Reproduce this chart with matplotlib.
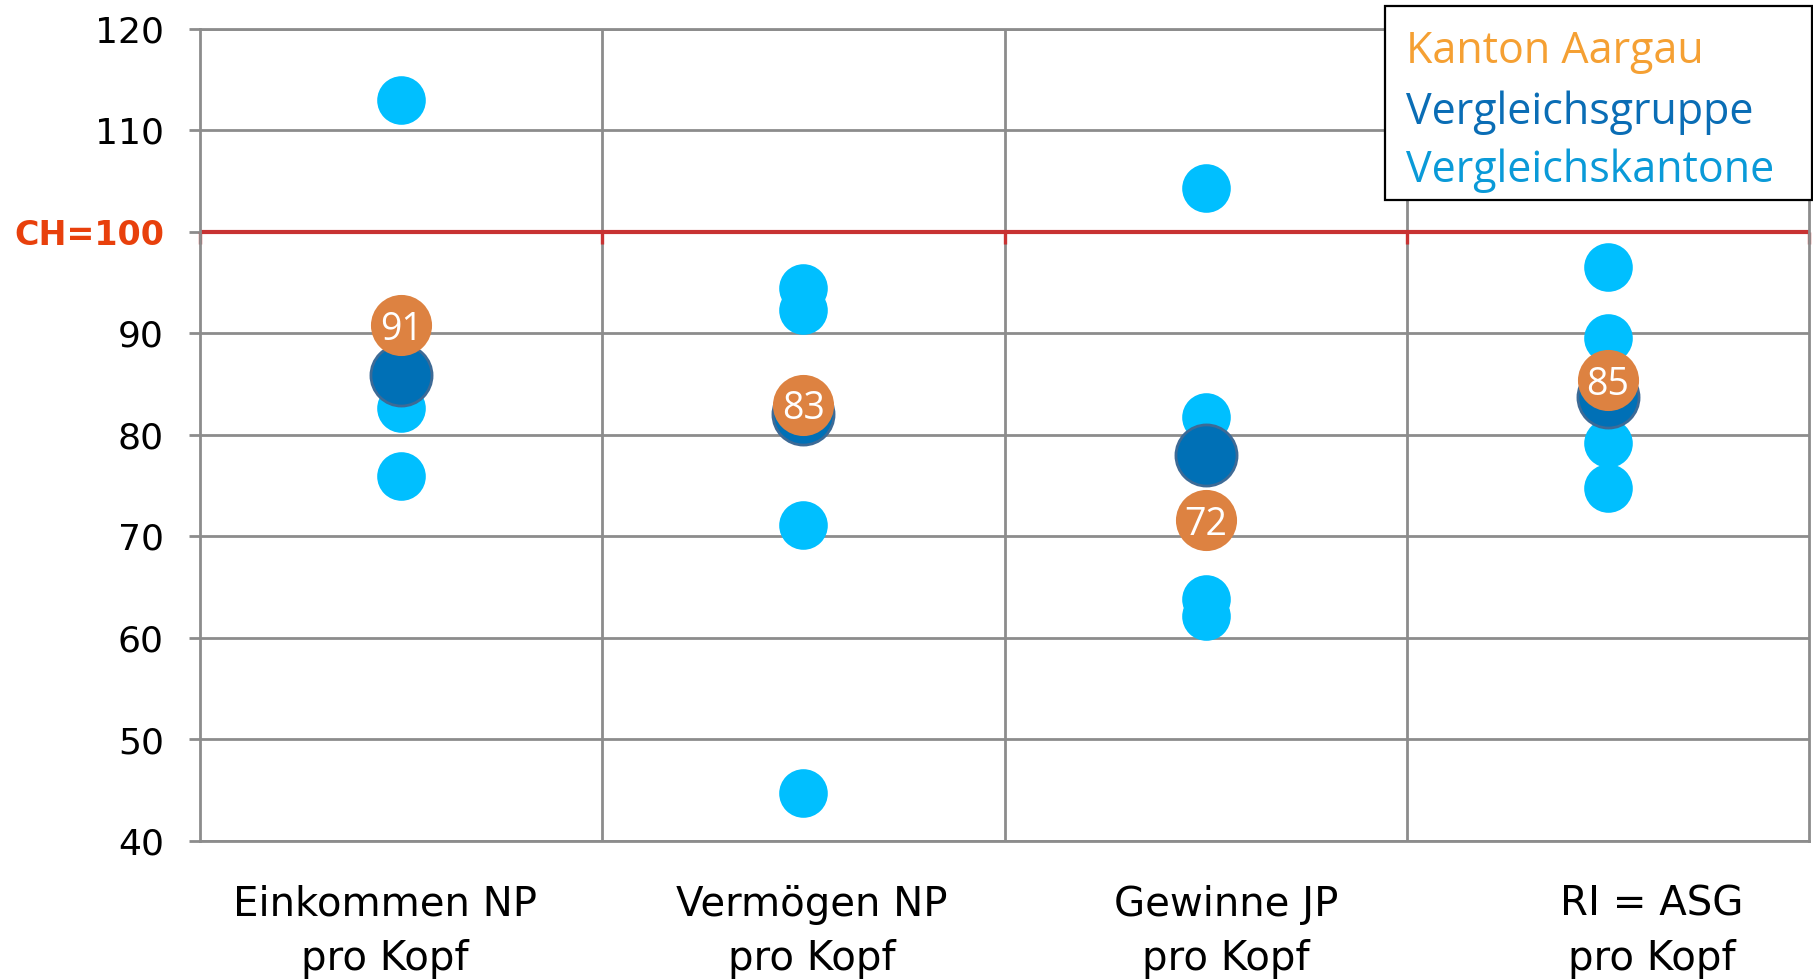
import matplotlib.pyplot as plt
from matplotlib.patches import Rectangle
from matplotlib.transforms import blended_transform_factory

# Indexwerte pro Kopf, CH = 100
categories = ["Einkommen NP\npro Kopf", "Vermögen NP\npro Kopf",
              "Gewinne JP\npro Kopf", "RI = ASG\npro Kopf"]
aargau = [90.8, 83.0, 71.6, 85.4]
gruppe = [85.9, 82.1, 78.0, 83.7]
kantone = [
    [113.0, 82.7, 76.0],
    [94.5, 92.3, 71.1, 44.7],
    [104.3, 81.8, 63.8, 62.2],
    [96.6, 89.6, 79.2, 74.8],
]
yticks = [40, 50, 60, 70, 80, 90, 100, 110, 120]
legend_labels = ["Kanton Aargau", "Vergleichsgruppe", "Vergleichskantone"]

c_kanton = "#dd8241"
c_gruppe = "#0070b6"
c_kantone = "#00bfff"
c_grid = "#8c8c8c"
c_red = "#c83232"
legend_colors = ["#f5a033", "#0a6db5", "#0a9ad8"]

W, H = 1813, 980
fig = plt.figure(figsize=(W / 100, H / 100), dpi=100)
ax = fig.add_axes([200 / W, 1 - 841 / H, 1609 / W, 812 / H])
ax.set_xlim(-0.5, 3.5)
ax.set_ylim(40, 120)

# Raster
ax.set_yticks(yticks)
ax.set_yticklabels([("CH=100" if t == 100 else str(t)) for t in yticks])
ax.yaxis.grid(True, color=c_grid, lw=2)
ax.set_xticks([])
ax.set_xticks([0.5, 1.5, 2.5], minor=True)
ax.xaxis.grid(True, which="minor", color=c_grid, lw=2)
ax.set_axisbelow(True)
for s in ax.spines.values():
    s.set_color(c_grid)
    s.set_linewidth(2)
ax.tick_params(axis="x", which="both", length=0)
ax.tick_params(axis="y", direction="out", length=8, width=2, color=c_grid,
               pad=18, labelsize=26)
for lbl in ax.get_yticklabels():
    if lbl.get_text() == "CH=100":
        lbl.set_color("#e8400c")
        lbl.set_fontweight("bold")
        lbl.set_fontsize(24)

# CH = 100 Linie
ax.axhline(100, color=c_red, lw=3, zorder=2)
ax.vlines([-0.5, 0.5, 1.5, 2.5, 3.5], 98.8, 100, color=c_red, lw=2.4,
          zorder=2, clip_on=False)

# Punkte
for i, vals in enumerate(kantone):
    ax.plot([i] * len(vals), vals, "o", ms=35, color=c_kantone, mec="none",
            zorder=3)
ax.plot(range(len(gruppe)), gruppe, "o", ms=44, mfc=c_gruppe, mec="#3d6a96",
        mew=2, ls="none", zorder=4)
ax.plot(range(len(aargau)), aargau, "o", ms=44, color=c_kanton, mec="none",
        ls="none", zorder=5)
for i, v in enumerate(aargau):
    ax.text(i, v, f"{v:.0f}", color="white", fontsize=27, family="Open Sans",
            ha="center", va="center_baseline", zorder=6)

# Kategorien unter der Achse
trans = blended_transform_factory(ax.transData, ax.transAxes)
label_x = [-0.04, 1.02, 2.05, 3.11]
for x, lbl in zip(label_x, categories):
    ax.text(x, -0.112, lbl, transform=trans, ha="center", va="center",
            fontsize=29, linespacing=1.45, clip_on=False)

# Legende
fig.add_artist(Rectangle((1385 / W, 1 - 200 / H), (W - 1385) / W - 0.0005,
                         194 / H, transform=fig.transFigure, fc="white",
                         ec="black", lw=1.6, zorder=10))
for yb, txt, col in zip([63, 124, 182], legend_labels, legend_colors):
    fig.text(1406 / W, 1 - yb / H, txt, color=col, fontsize=31,
             family="Open Sans", va="baseline", zorder=11)

fig.savefig("out.png", dpi=100)
